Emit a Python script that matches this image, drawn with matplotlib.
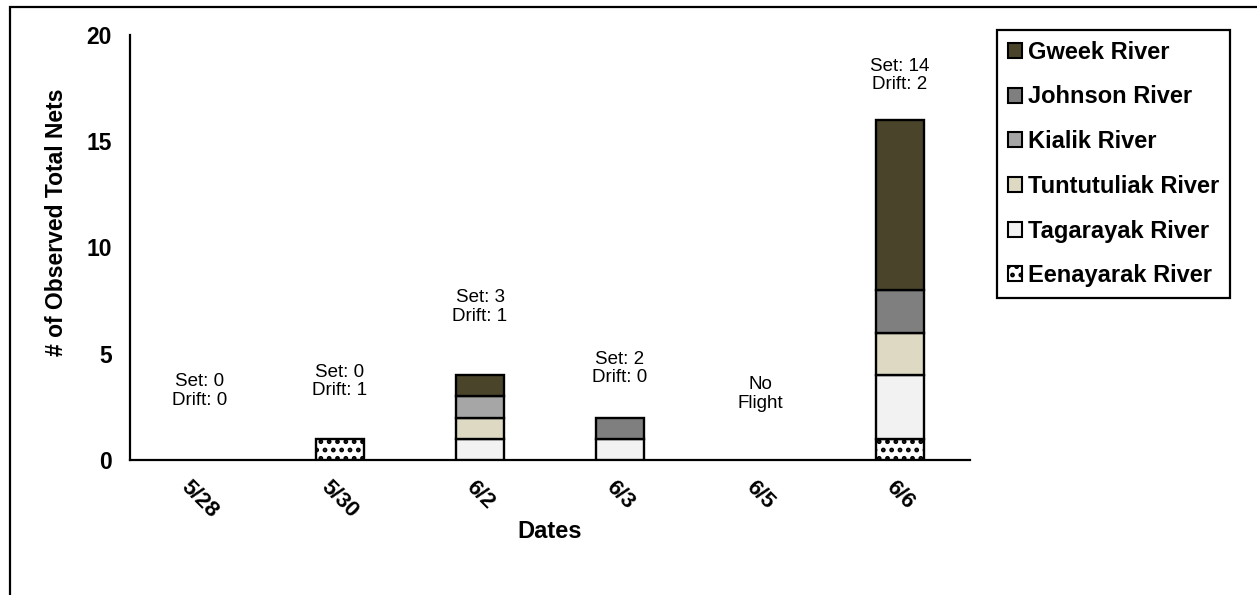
import matplotlib
matplotlib.use("Agg")
import matplotlib.pyplot as plt
import matplotlib.patches as mpatches
import matplotlib.transforms as mtransforms
import numpy as np

plt.rcParams['font.family'] = ['Liberation Sans', 'DejaVu Sans']
plt.rcParams['hatch.linewidth'] = 2.2

# ---------------------------------------------------------
# Data
# ---------------------------------------------------------
dates = ["5/28", "5/30", "6/2", "6/3", "6/5", "6/6"]

# stacked bottom -> top
rivers = ["Eenayarak River", "Tagarayak River", "Tuntutuliak River",
          "Kialik River", "Johnson River", "Gweek River"]

eenayarak = [0, 1, 0, 0, 0, 1]
tagarayak = [0, 0, 1, 1, 0, 3]
tuntutuliak = [0, 0, 1, 0, 0, 2]
kialik = [0, 0, 1, 0, 0, 0]
johnson = [0, 0, 0, 1, 0, 2]
gweek = [0, 0, 1, 0, 0, 8]

set_nets = [0, 0, 3, 2, None, 14]
drift_nets = [0, 1, 1, 0, None, 2]
label_heights = [3.25, 3.7, 7.2, 4.3, 3.1, 18.1]

colors = ["white", "#F2F2F2", "#DDD9C3", "#A6A6A6", "#7F7F7F", "#4A452A"]
hatches = ["..", None, None, None, None, None]

# ---------------------------------------------------------
# Figure
# ---------------------------------------------------------
fig = plt.figure(figsize=(12.57, 5.95), dpi=100)
ax = fig.add_axes([130 / 1257, 1 - 460 / 595, 840 / 1257, 425 / 595])

# outer frame around the whole chart
frame = mpatches.Rectangle((10 / 1257, -0.1), 1.1, 1.1 - 7 / 595,
                           transform=fig.transFigure, fill=False,
                           edgecolor="black", linewidth=1.6, clip_on=False)
fig.patches.append(frame)

x = np.arange(len(dates))
series = [eenayarak, tagarayak, tuntutuliak, kialik, johnson, gweek]
bottom = np.zeros(len(dates))

for name, vals, col, h in zip(rivers, series, colors, hatches):
    vals = np.array(vals, dtype=float)
    keep = vals > 0   # empty segments get no outline
    ax.bar(x[keep], vals[keep], width=0.34, bottom=bottom[keep], color=col,
           edgecolor="black", linewidth=1.7, hatch=h, label=name, zorder=3)
    bottom += vals

# set / drift labels above each date
for i, (s, d, yl) in enumerate(zip(set_nets, drift_nets, label_heights)):
    if s is None:
        txt = "No\nFlight"
    else:
        txt = f"Set: {s}\nDrift: {d}"
    ax.text(x[i], yl, txt, ha="center", va="center", fontsize=13.5,
            linespacing=1.1)

ax.set_xlim(-0.5, len(dates) - 0.5)
ax.set_ylim(0, 20)
ax.set_yticks([0, 5, 10, 15, 20])
ax.set_xticks(x)
ax.set_xticklabels(dates, rotation=-45, ha="center", va="top",
                   fontsize=16, fontweight="bold")
shift = mtransforms.ScaledTranslation(-7 / 72, 0, fig.dpi_scale_trans)
for lab in ax.get_xticklabels():
    lab.set_transform(lab.get_transform() + shift)
for lab in ax.get_yticklabels():
    lab.set_fontsize(16.5)
    lab.set_fontweight("bold")
ax.tick_params(axis="both", length=0)
ax.tick_params(axis="y", pad=13)
ax.tick_params(axis="x", pad=12)

for side in ("top", "right"):
    ax.spines[side].set_visible(False)
for side in ("left", "bottom"):
    ax.spines[side].set_linewidth(1.6)

ax.set_ylabel("# of Observed Total Nets", fontsize=16.5, fontweight="bold")
ax.yaxis.set_label_coords(-0.074, 0.56)
ax.set_xlabel("Dates", fontsize=17, fontweight="bold")
ax.xaxis.set_label_coords(0.5, -0.142)

# ---------------------------------------------------------
# Legend (top of stack listed first)
# ---------------------------------------------------------
handles = []
for name, col, h in zip(rivers[::-1], colors[::-1], hatches[::-1]):
    handles.append(mpatches.Patch(facecolor=col, edgecolor="black",
                                  linewidth=1.5, hatch=h, label=name))

leg = fig.legend(handles=handles, loc="upper left",
                 bbox_to_anchor=(997 / 1257, 1 - 30 / 595),
                 bbox_transform=fig.transFigure,
                 prop={"size": 17, "weight": "bold"},
                 handlelength=0.6, handleheight=0.6, handletextpad=0.25,
                 labelspacing=0.92, borderpad=0.45, borderaxespad=0,
                 fancybox=False, framealpha=1, edgecolor="black")
leg.get_frame().set_linewidth(1.6)

fig.savefig("out.png", dpi=100)
